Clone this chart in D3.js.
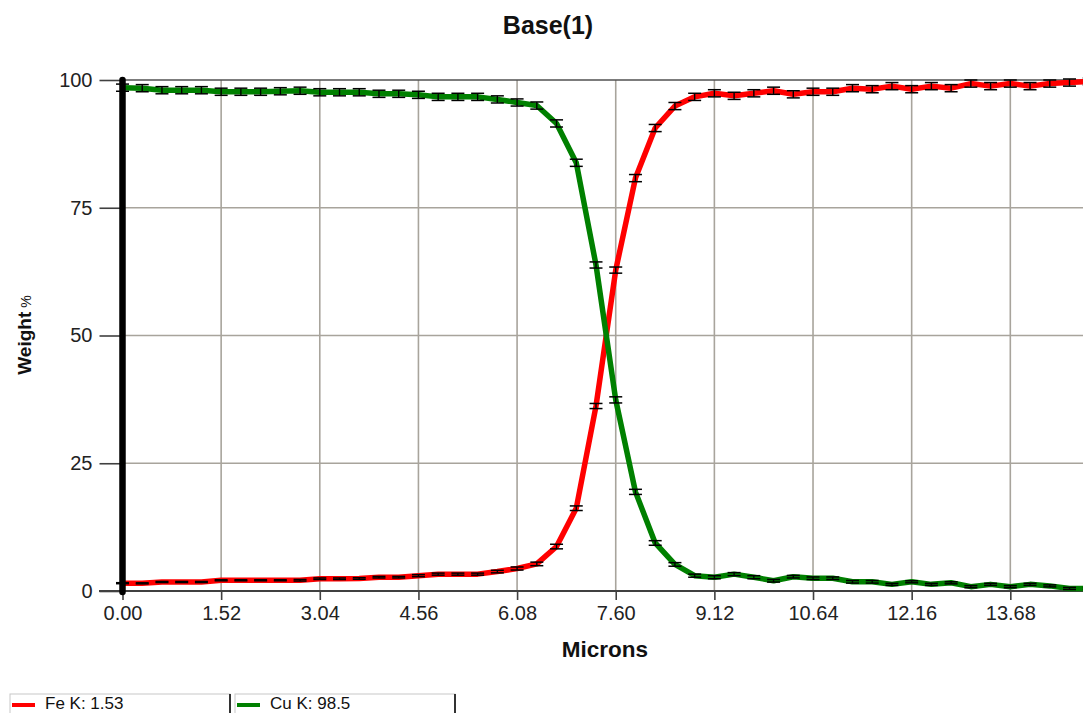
<!DOCTYPE html>
<html>
<head>
<meta charset="utf-8">
<script src="https://cdn.jsdelivr.net/npm/d3@7"></script>
<style>
  html, body { margin: 0; padding: 0; background: #ffffff; }
  svg { display: block; font-family: "Liberation Sans", Arial, sans-serif; }
</style>
</head>
<body>
<svg id="chart" width="1083" height="713"></svg>
<script>
// ---- data ----
const title = "Base(1)";
const xLabel = "Microns";
const yLabel = "Weight";
const yUnit = "%";
const xTicks = [0, 1.52, 3.04, 4.56, 6.08, 7.60, 9.12, 10.64, 12.16, 13.68];
const yTicks = [0, 25, 50, 75, 100];
const microns = [0.000, 0.304, 0.608, 0.912, 1.216, 1.520, 1.824, 2.128, 2.432, 2.736,
                 3.040, 3.344, 3.648, 3.952, 4.256, 4.560, 4.864, 5.168, 5.472, 5.776,
                 6.080, 6.384, 6.688, 6.992, 7.296, 7.600, 7.904, 8.208, 8.512, 8.816,
                 9.120, 9.424, 9.728, 10.032, 10.336, 10.640, 10.944, 11.248, 11.552, 11.856,
                 12.160, 12.464, 12.768, 13.072, 13.376, 13.680, 13.984, 14.288, 14.592, 14.896];
const feK = [1.53, 1.5, 1.76, 1.76, 1.76, 2.1, 2.1, 2.1, 2.1, 2.1,
             2.4, 2.4, 2.45, 2.7, 2.7, 3.0, 3.3, 3.3, 3.3, 3.8,
             4.4, 5.3, 8.7, 16.2, 36.2, 62.8, 80.8, 90.6, 94.9, 96.7,
             97.4, 96.9, 97.4, 97.9, 97.2, 97.7, 97.7, 98.4, 98.2, 98.8,
             98.2, 98.8, 98.4, 99.3, 98.8, 99.3, 98.8, 99.3, 99.5, 99.7];
const cuK = [98.5, 98.4, 98.0, 98.0, 98.0, 97.7, 97.7, 97.7, 97.8, 97.9,
             97.6, 97.6, 97.6, 97.3, 97.3, 97.1, 96.7, 96.7, 96.7, 96.2,
             95.6, 95.0, 91.5, 83.8, 63.8, 37.4, 19.4, 9.4, 5.2, 3.0,
             2.7, 3.3, 2.7, 2.0, 2.8, 2.5, 2.5, 1.8, 1.8, 1.3,
             1.8, 1.3, 1.6, 0.85, 1.3, 0.85, 1.3, 1.0, 0.5, 0.5];
const feErr = [0.1, 0.1, 0.1, 0.1, 0.1, 0.1, 0.1, 0.1, 0.1, 0.15,
               0.15, 0.15, 0.15, 0.15, 0.15, 0.2, 0.2, 0.2, 0.2, 0.25,
               0.3, 0.35, 0.45, 0.45, 0.5, 0.6, 0.7, 0.7, 0.7, 0.7,
               0.7, 0.7, 0.7, 0.7, 0.7, 0.7, 0.7, 0.7, 0.7, 0.7,
               0.7, 0.7, 0.7, 0.7, 0.7, 0.7, 0.7, 0.7, 0.7, 0.7];
const cuErr = [0.7, 0.7, 0.7, 0.7, 0.7, 0.7, 0.7, 0.7, 0.7, 0.7,
               0.7, 0.7, 0.7, 0.7, 0.7, 0.7, 0.7, 0.7, 0.7, 0.7,
               0.7, 0.7, 0.7, 0.7, 0.6, 0.6, 0.5, 0.45, 0.35, 0.3,
               0.3, 0.3, 0.3, 0.25, 0.25, 0.25, 0.25, 0.25, 0.25, 0.2,
               0.2, 0.2, 0.2, 0.2, 0.2, 0.2, 0.2, 0.2, 0.2, 0.2];
const seriesNames = ["Fe K", "Cu K"];
const legendValues = ["1.53", "98.5"];
const seriesColors = ["#ff0000", "#008000"];

// ---- drawing ----
const svg = d3.select("#chart");
const x = d3.scaleLinear().domain([0, 14.80]).range([122.5, 1083]);
const y = d3.scaleLinear().domain([0, 100]).range([591, 80]);

svg.append("defs").append("clipPath").attr("id", "plotclip")
  .append("rect").attr("x", 100).attr("y", 60).attr("width", 983).attr("height", 560);

// grid
const grid = svg.append("g");
grid.selectAll("line.vg").data(xTicks.slice(1)).join("line")
  .attr("x1", d => x(d)).attr("x2", d => x(d))
  .attr("y1", y(100)).attr("y2", y(0))
  .attr("stroke", "#a8a49c").attr("stroke-width", 1.6);
grid.selectAll("line.hg").data(yTicks.filter(d => d > 0 && d < 100)).join("line")
  .attr("x1", x(0)).attr("x2", 1083)
  .attr("y1", d => y(d)).attr("y2", d => y(d))
  .attr("stroke", "#a8a49c").attr("stroke-width", 1.6);
grid.append("line")
  .attr("x1", x(0)).attr("x2", 1083).attr("y1", y(100)).attr("y2", y(100))
  .attr("stroke", "#505050").attr("stroke-width", 1.6);

// axes
const yAxis = svg.append("g").attr("transform", `translate(${x(0)},0)`)
  .call(d3.axisLeft(y).tickValues(yTicks).tickFormat(d3.format("d")).tickSize(23).tickPadding(7).tickSizeOuter(0));
yAxis.select(".domain").remove();
yAxis.selectAll(".tick line").attr("stroke", "#404040").attr("stroke-width", 1.6);
yAxis.selectAll(".tick text").attr("font-size", 20).attr("fill", "#222")
  .attr("font-family", '"Liberation Sans", Arial, sans-serif');

const xAxis = svg.append("g").attr("transform", `translate(0,${y(0)})`)
  .call(d3.axisBottom(x).tickValues(xTicks).tickFormat(d3.format(".2f")).tickSize(9).tickPadding(6).tickSizeOuter(0));
xAxis.select(".domain").remove();
xAxis.selectAll(".tick line").attr("stroke", "#404040").attr("stroke-width", 1.6);
xAxis.selectAll(".tick text").attr("font-size", 20).attr("fill", "#222")
  .attr("font-family", '"Liberation Sans", Arial, sans-serif');
svg.append("line").attr("x1", 99).attr("x2", 1083).attr("y1", y(0)).attr("y2", y(0))
  .attr("stroke", "#404040").attr("stroke-width", 1.8);

// series
const plot = svg.append("g").attr("clip-path", "url(#plotclip)");
const seriesData = [feK, cuK];
const errData = [feErr, cuErr];
seriesData.forEach((vals, si) => {
  const pts = microns.map((m, i) => ({ m, v: vals[i], e: errData[si][i] }));
  plot.append("path").datum(pts)
    .attr("fill", "none").attr("stroke", seriesColors[si]).attr("stroke-width", 5.5)
    .attr("stroke-linejoin", "round")
    .attr("d", d3.line().x(d => x(d.m)).y(d => y(d.v)));
  const eb = plot.append("g").selectAll("g").data(pts).join("g");
  eb.append("line").attr("x1", d => x(d.m)).attr("x2", d => x(d.m))
    .attr("y1", d => y(d.v - d.e)).attr("y2", d => y(d.v + d.e))
    .attr("stroke", "#000").attr("stroke-width", 1.4);
  eb.append("line").attr("x1", d => x(d.m) - 6.5).attr("x2", d => x(d.m) + 6.5)
    .attr("y1", d => y(d.v + d.e)).attr("y2", d => y(d.v + d.e))
    .attr("stroke", "#000").attr("stroke-width", 1.5);
  eb.append("line").attr("x1", d => x(d.m) - 6.5).attr("x2", d => x(d.m) + 6.5)
    .attr("y1", d => y(d.v - d.e)).attr("y2", d => y(d.v - d.e))
    .attr("stroke", "#000").attr("stroke-width", 1.5);
});

// cursor bar at x = 0
svg.append("line").attr("x1", x(0)).attr("x2", x(0)).attr("y1", 80).attr("y2", 592)
  .attr("stroke", "#000").attr("stroke-width", 6.5).attr("stroke-linecap", "round");

// title & labels
svg.append("text").attr("x", 548).attr("y", 34).attr("text-anchor", "middle")
  .attr("font-size", 25).attr("font-weight", "bold").attr("fill", "#111").text(title);
svg.append("text").attr("x", 605).attr("y", 657).attr("text-anchor", "middle")
  .attr("font-size", 22.5).attr("font-weight", "bold").attr("fill", "#111").text(xLabel);
const yl = svg.append("text").attr("transform", "translate(31,335) rotate(-90)")
  .attr("text-anchor", "middle").attr("fill", "#111");
yl.append("tspan").attr("font-size", 19).attr("font-weight", "bold").text(yLabel);
yl.append("tspan").attr("font-size", 14).attr("dx", 4).text(yUnit);

// legend
const legendX = [10, 235];
seriesNames.forEach((name, i) => {
  const g = svg.append("g").attr("transform", `translate(${legendX[i]},694)`);
  g.append("rect").attr("x", 0).attr("y", 0).attr("width", 220).attr("height", 30)
    .attr("fill", "#fff").attr("stroke", "#c8c8c8").attr("stroke-width", 1);
  g.append("line").attr("x1", 220).attr("x2", 220).attr("y1", 0).attr("y2", 30)
    .attr("stroke", "#333").attr("stroke-width", 2);
  g.append("line").attr("x1", 2).attr("x2", 25).attr("y1", 11).attr("y2", 11)
    .attr("stroke", seriesColors[i]).attr("stroke-width", 4);
  g.append("text").attr("x", 35).attr("y", 15).attr("font-size", 17).attr("fill", "#111")
    .text(`${name}: ${legendValues[i]}`);
});
</script>
</body>
</html>
